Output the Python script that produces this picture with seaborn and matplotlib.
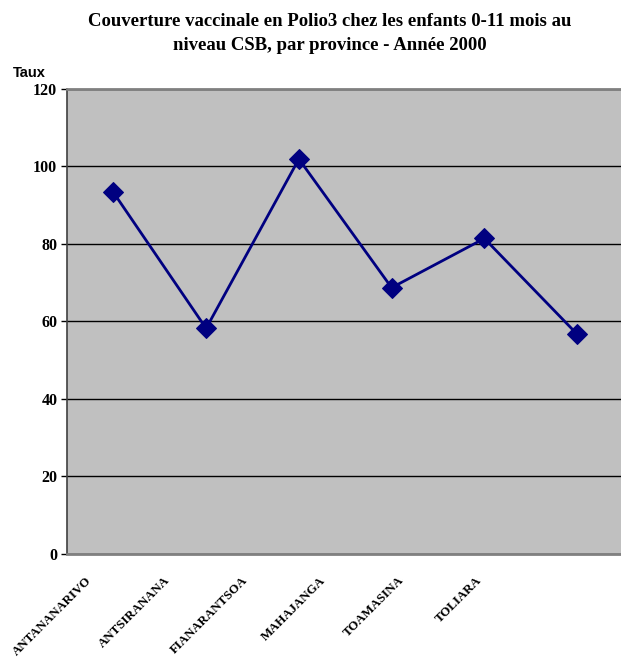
import pandas as pd
import numpy as np
import matplotlib
matplotlib.use('Agg')
import matplotlib.pyplot as plt
import matplotlib.transforms as mtransforms
import seaborn as sns

# Polio3 coverage, children 0-11 months, CSB level, year 2000
provinces = ['ANTANANARIVO', 'ANTSIRANANA', 'FIANARANTSOA', 'MAHAJANGA', 'TOAMASINA', 'TOLIARA']
taux = [93.2, 58.1, 101.8, 68.6, 81.3, 56.6]
yticks = [0, 20, 40, 60, 80, 100, 120]

df = pd.DataFrame({'province': provinces, 'taux': taux})
df['pos'] = np.arange(len(df))

sns.set_style('white')
plt.rcParams['font.family'] = ['Liberation Serif', 'DejaVu Serif']
plt.rcParams['text.color'] = 'black'
plt.rcParams['xtick.color'] = 'black'
plt.rcParams['ytick.color'] = 'black'

fig = plt.figure(figsize=(6.21, 6.64), dpi=100)
ax = fig.add_axes([0.1079, 0.1664, 0.8961, 0.7003])
ax.set_facecolor('#C0C0C0')

sns.lineplot(data=df, x='pos', y='taux', ax=ax, sort=False, color='#000080',
             linewidth=2, marker='D', markersize=10, markeredgecolor='#000080')

ax.set_xlim(-0.5, len(df) - 0.5)
ax.set_ylim(0, 120)
ax.set_yticks(yticks)
ax.set_yticklabels([str(t) for t in yticks], fontsize=11.5, fontweight='bold')
ax.yaxis.grid(True, color='black', linewidth=1)
ax.set_axisbelow(True)
ax.set_xlabel('')
ax.set_ylabel('')

ax.set_xticks(df['pos'])
ax.set_xticklabels(df['province'], rotation=45, ha='right', va='center',
                   rotation_mode='anchor', fontsize=9.3, fontweight='bold')
ax.tick_params(axis='x', length=0, pad=18)
ax.tick_params(axis='y', length=4, width=1, color='black', direction='out', pad=3, left=True)

# labels drift left progressively, as in the original spreadsheet chart
for i, lbl in enumerate(ax.get_xticklabels()):
    dx = -(24 + 14.6 * i) / 100
    lbl.set_transform(lbl.get_transform() + mtransforms.ScaledTranslation(dx, 0, fig.dpi_scale_trans))

for side in ['top', 'bottom']:
    ax.spines[side].set_color('#808080')
    ax.spines[side].set_linewidth(2)
ax.spines['left'].set_color('#404040')
ax.spines['left'].set_linewidth(1.2)
ax.spines['right'].set_visible(False)

fig.text(0.531, 0.967, 'Couverture vaccinale en Polio3 chez les enfants 0-11 mois au',
         ha='center', va='center', fontsize=13.5, fontweight='bold')
fig.text(0.531, 0.932, 'niveau CSB, par province - Année 2000',
         ha='center', va='center', fontsize=13.5, fontweight='bold')
fig.text(0.021, 0.890, 'Taux', ha='left', va='center', fontsize=10.5, fontweight='bold',
         family=['Liberation Sans', 'DejaVu Sans'])

fig.savefig('out.png', dpi=100)
